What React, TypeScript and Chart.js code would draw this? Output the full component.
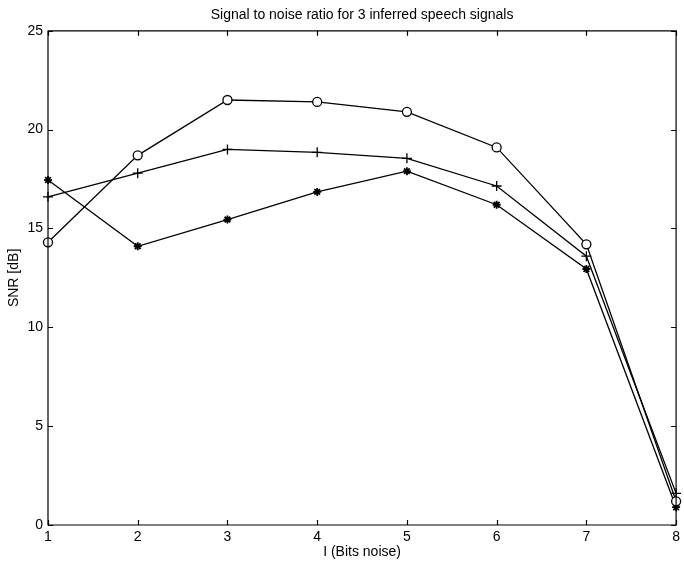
import React, { useEffect, useRef } from "react";
import { Chart, registerables } from "chart.js";

Chart.register(...registerables);

const bitsNoise = [1, 2, 3, 4, 5, 6, 7, 8];
const snrCircle = [14.3, 18.7, 21.5, 21.4, 20.9, 19.1, 14.2, 1.2];
const snrPlus = [16.6, 17.8, 19.0, 18.85, 18.55, 17.15, 13.6, 1.6];
const snrStar = [17.45, 14.1, 15.45, 16.85, 17.9, 16.2, 12.95, 0.9];
const yTicks = [0, 5, 10, 15, 20, 25];

const FONT = "'Liberation Sans', Arial, Helvetica, sans-serif";

const boxTicksPlugin = {
  id: "boxTicks",
  afterDatasetsDraw(chart: any) {
    const { ctx, chartArea, scales } = chart;
    const { left, right, top, bottom } = chartArea;
    ctx.save();
    ctx.strokeStyle = "#000";
    ctx.lineWidth = 1.2;
    ctx.beginPath();
    ctx.rect(left, top, right - left, bottom - top);
    ctx.stroke();
    const tl = 5;
    ctx.beginPath();
    bitsNoise.forEach((v) => {
      const x = Math.round(scales.x.getPixelForValue(v)) + 0.5;
      ctx.moveTo(x, bottom);
      ctx.lineTo(x, bottom - tl);
      ctx.moveTo(x, top);
      ctx.lineTo(x, top + tl);
    });
    yTicks.forEach((v) => {
      const y = Math.round(scales.y.getPixelForValue(v)) + 0.5;
      ctx.moveTo(left, y);
      ctx.lineTo(left + tl, y);
      ctx.moveTo(right, y);
      ctx.lineTo(right - tl, y);
    });
    ctx.stroke();
    ctx.restore();
  },
};

export default function App() {
  const ref = useRef<HTMLCanvasElement | null>(null);
  useEffect(() => {
    if (!ref.current) return;
    const mk = (vals: number[]) => bitsNoise.map((x, i) => ({ x, y: vals[i] }));
    const chart = new Chart(ref.current, {
      type: "line",
      data: {
        datasets: [
          {
            label: "o",
            data: mk(snrCircle),
            borderColor: "#000",
            borderWidth: 1.3,
            pointStyle: "circle",
            pointRadius: 4.5,
            pointBorderWidth: 1.3,
            pointBackgroundColor: "#fff",
            pointBorderColor: "#000",
            clip: false as any,
          },
          {
            label: "+",
            data: mk(snrPlus),
            borderColor: "#000",
            borderWidth: 1.3,
            pointStyle: "cross",
            pointRadius: 5,
            pointBorderWidth: 1.3,
            pointBorderColor: "#000",
            clip: false as any,
          },
          {
            label: "*",
            data: mk(snrStar),
            borderColor: "#000",
            borderWidth: 1.3,
            pointStyle: "star",
            pointRadius: 4,
            pointBorderWidth: 1.8,
            pointBorderColor: "#000",
            clip: false as any,
          },
        ],
      },
      options: {
        responsive: false,
        animation: false,
        layout: { padding: { left: 0, right: 7, top: 0, bottom: 0 } },
        plugins: {
          legend: { display: false },
          tooltip: { enabled: false },
          title: {
            display: true,
            fullSize: false,
            text: "Signal to noise ratio for 3 inferred speech signals",
            color: "#000",
            font: { family: FONT, size: 14, weight: "normal" },
            padding: { top: 7, bottom: 7 },
          },
        },
        scales: {
          x: {
            type: "linear",
            min: 1,
            max: 8,
            ticks: {
              stepSize: 1,
              color: "#000",
              font: { family: FONT, size: 14 },
              padding: 4,
              maxRotation: 0,
            },
            grid: { display: false, drawTicks: false },
            border: { display: false },
            title: {
              display: true,
              text: "I (Bits noise)",
              color: "#000",
              font: { family: FONT, size: 14 },
              padding: { top: 0, bottom: 0 },
            },
            afterFit: (s: any) => {
              s.height = 36;
            },
          },
          y: {
            type: "linear",
            min: 0,
            max: 25,
            ticks: {
              stepSize: 5,
              color: "#000",
              font: { family: FONT, size: 14 },
              padding: 5,
            },
            grid: { display: false, drawTicks: false },
            border: { display: false },
            title: {
              display: true,
              text: "SNR [dB]",
              color: "#000",
              font: { family: FONT, size: 14 },
              padding: { top: 6, bottom: 0 },
            },
            afterFit: (s: any) => {
              s.width = 48;
            },
          },
        },
      },
      plugins: [boxTicksPlugin],
    });
    return () => chart.destroy();
  }, []);
  return (
    <div style={{ position: "fixed", left: 0, top: 0, width: 684, height: 561, background: "#fff" }}>
      <canvas ref={ref} width={684} height={561} style={{ display: "block" }} />
    </div>
  );
}
